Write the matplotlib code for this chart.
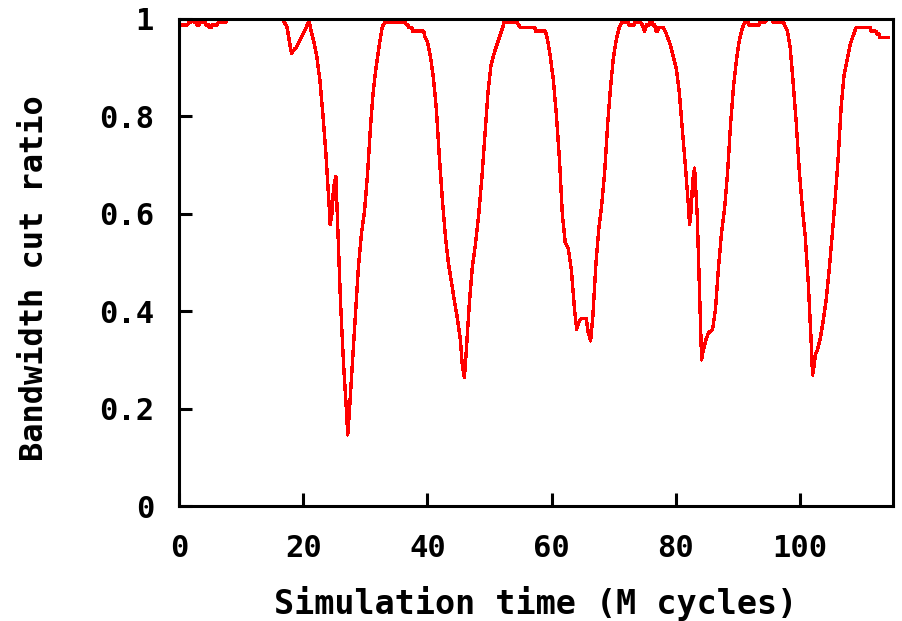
import matplotlib
matplotlib.use('Agg')
import matplotlib.pyplot as plt

# ===========================
# DADOS
# ===========================
# tempo de simulação (M ciclos)
tempo = [
    0.0, 1.4, 1.55, 1.9, 2.1, 2.35, 2.45, 2.8, 2.9, 3.3, 3.4, 4.2, 4.35, 4.75,
    4.9, 5.2, 5.3, 6.2, 6.35, 7.6, 7.75, 16.8,
    16.91, 17.39, 17.87, 18.14, 18.57, 18.84, 19.32, 19.8, 20.28, 20.71, 20.92,
    21.24, 21.72, 22.2, 22.69, 23.17, 23.65, 24.13, 24.35, 24.67, 24.88, 25.26,
    25.52, 26.0, 26.49, 26.97, 27.18, 27.45, 27.93, 28.41, 28.89, 29.38, 29.86,
    30.34, 30.82, 31.3, 31.78, 32.26, 32.75, 33.17, 36.4, 36.6, 36.9, 37.0,
    37.5, 37.6, 39.4,
    39.6, 40.02, 40.5, 40.98, 41.47, 41.95, 42.43, 42.91, 43.4, 43.87, 44.35,
    44.84, 45.32, 45.58, 45.96, 46.27, 46.76, 47.24, 47.72, 48.26, 48.8, 49.28,
    49.76, 50.24, 50.72, 51.2, 51.68, 52.17, 52.33, 54.46, 54.69, 55.0, 57.3,
    57.45, 59.0,
    59.34, 59.8, 60.3, 60.8, 61.3, 61.75, 62.2, 62.7, 63.2, 63.7, 64.05, 64.4,
    64.8, 65.6, 65.9, 66.3, 66.67, 67.15, 67.63, 68.06, 68.54, 69.02, 69.5,
    69.98, 70.46, 70.94, 71.37, 72.3, 72.4, 73.35, 73.45, 74.3, 74.6, 75.0,
    75.3, 75.7, 75.8, 76.2, 76.3, 76.6, 76.8, 77.1, 77.2, 78.0,
    78.17, 78.65, 79.14, 79.62, 80.1, 80.58, 81.06, 81.54, 82.02, 82.24, 82.5,
    82.72, 83.04, 83.47, 83.95, 84.17, 84.43, 84.91, 85.29, 85.93, 86.41,
    86.89, 87.37, 87.86, 88.34, 88.82, 89.3, 89.78, 90.27, 90.75, 91.17, 91.66,
    91.8, 93.5, 93.6, 94.5, 94.6, 95.6, 95.67, 97.4, 97.5,
    97.97, 98.45, 98.93, 99.41, 99.9, 100.38, 100.86, 101.34, 101.82, 102.04,
    102.3, 102.5, 102.78, 103.27, 103.75, 104.23, 104.71, 105.19, 105.67,
    106.16, 106.64, 107.12, 107.6, 108.08, 108.56, 109.05, 111.35, 111.45,
    112.25, 112.4, 112.8, 112.9, 114.3,
]

# razão de corte de banda
razao = [
    0.988, 0.988, 0.994, 0.994, 1.0, 1.0, 0.994, 0.994, 0.988, 0.988, 0.994,
    0.994, 0.988, 0.988, 0.982, 0.982, 0.988, 0.988, 0.994, 0.994, 1.0, 1.0,
    0.994, 0.984, 0.947, 0.929, 0.938, 0.941, 0.953, 0.965, 0.977, 0.989, 0.997,
    0.977, 0.953, 0.923, 0.874, 0.805, 0.726, 0.628, 0.578, 0.603, 0.652, 0.677,
    0.590, 0.422, 0.294, 0.195, 0.146, 0.195, 0.294, 0.392, 0.490, 0.559, 0.603,
    0.677, 0.775, 0.854, 0.904, 0.947, 0.984, 0.994, 0.994, 0.988, 0.988, 0.982,
    0.982, 0.975, 0.975,
    0.964, 0.953, 0.923, 0.879, 0.812, 0.713, 0.627, 0.553, 0.498, 0.460, 0.422,
    0.385, 0.342, 0.295, 0.264, 0.318, 0.416, 0.490, 0.535, 0.597, 0.677, 0.762,
    0.849, 0.904, 0.928, 0.947, 0.965, 0.984, 0.994, 0.994, 0.988, 0.982, 0.982,
    0.975, 0.975,
    0.959, 0.923, 0.874, 0.800, 0.707, 0.597, 0.542, 0.529, 0.484, 0.404, 0.363,
    0.378, 0.385, 0.385, 0.357, 0.339, 0.392, 0.498, 0.571, 0.615, 0.682, 0.781,
    0.860, 0.922, 0.959, 0.984, 0.994, 0.994, 0.988, 0.988, 0.994, 0.994, 0.988,
    0.975, 0.988, 0.988, 0.994, 0.994, 0.988, 0.988, 0.975, 0.975, 0.982, 0.982,
    0.979, 0.964, 0.947, 0.923, 0.898, 0.849, 0.775, 0.701, 0.621, 0.578, 0.609,
    0.665, 0.694, 0.596, 0.398, 0.300, 0.319, 0.343, 0.356, 0.362, 0.404,
    0.490, 0.559, 0.609, 0.682, 0.781, 0.860, 0.916, 0.958, 0.982, 0.994, 0.994,
    0.988, 0.988, 0.994, 0.994, 1.0, 1.0, 0.994, 0.994, 0.988,
    0.977, 0.940, 0.867, 0.788, 0.689, 0.615, 0.554, 0.460, 0.337, 0.269,
    0.288, 0.312, 0.319, 0.343, 0.380, 0.422, 0.484, 0.554, 0.628,
    0.713, 0.818, 0.885, 0.916, 0.947, 0.965, 0.982, 0.982, 0.975,
    0.975, 0.969, 0.969, 0.962, 0.962,
]

x_ticks = [0, 20, 40, 60, 80, 100]
y_ticks = [0, 0.2, 0.4, 0.6, 0.8, 1]
y_labels = ['0', '0.2', '0.4', '0.6', '0.8', '1']

# ===========================
# GRÁFICO
# ===========================
fonte = {'family': 'DejaVu Sans Mono', 'weight': 'bold'}

fig = plt.figure(figsize=(9.02, 6.21), dpi=100)
ax = fig.add_axes([179 / 902, 1 - 506 / 621, (893 - 179) / 902, (506 - 19) / 621])

ax.plot(tempo, razao, color='#ff0000', lw=1.7, antialiased=False)

ax.set_xlim(0, 115)
ax.set_ylim(0, 1)
ax.set_xticks(x_ticks)
ax.set_yticks(y_ticks)
ax.set_xticklabels([str(t) for t in x_ticks], fontdict=fonte, fontsize=22)
ax.set_yticklabels(y_labels, fontdict=fonte, fontsize=22)
ax.tick_params(direction='in', length=9.5, width=2.2, top=False, right=False)
ax.tick_params(axis='x', pad=20)
ax.tick_params(axis='y', pad=18)

for s in ax.spines.values():
    s.set_linewidth(2.2)

ax.set_xlabel('Simulation time (M cycles)', fontdict=fonte, fontsize=24, va='center')
ax.set_ylabel('Bandwidth cut ratio', fontdict=fonte, fontsize=23, va='center')
ax.xaxis.set_label_coords(0.5, -0.201)
ax.yaxis.set_label_coords(-0.202, 0.468)

fig.savefig('out.png', dpi=100)
